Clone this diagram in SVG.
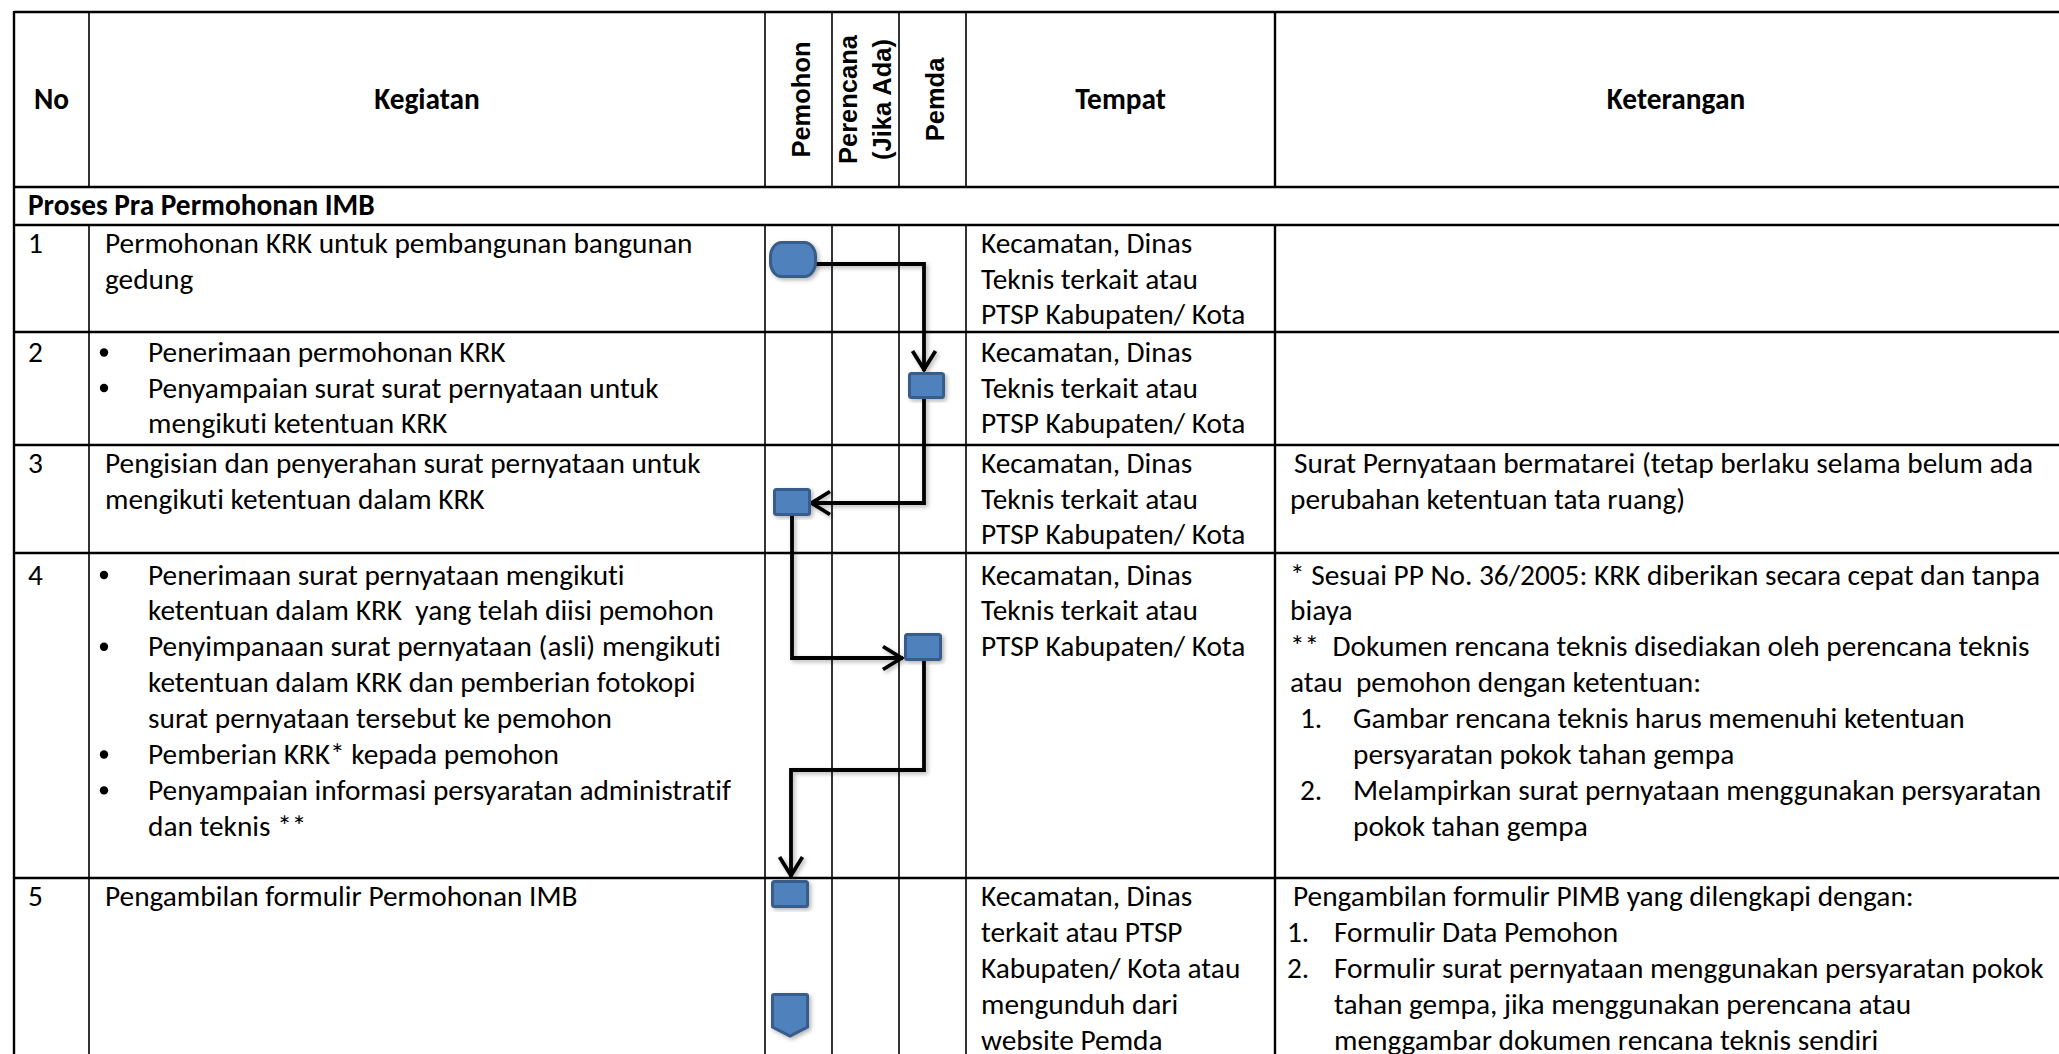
<svg xmlns="http://www.w3.org/2000/svg" width="2059" height="1054" viewBox="0 0 2059 1054">
<style>
.t{font-family:"Carlito","Open Sans","Noto Sans",sans-serif;font-size:29.33px;fill:#000;font-variant-ligatures:none}
.b{font-family:"Carlito","Open Sans","Noto Sans",sans-serif;font-size:29.33px;font-weight:bold;fill:#000;font-variant-ligatures:none}
.v{font-family:"Liberation Sans",Arial,sans-serif;font-size:25.5px;font-weight:bold;fill:#000}
.c{text-anchor:middle}
.h{stroke:#000;stroke-width:2.4;fill:none}
.g{stroke:#000;stroke-width:1.6;fill:none}
.shape{fill:#4F81BD;stroke:#385D8A;stroke-width:3;filter:url(#sh)}
.conn{fill:none;stroke:#000;stroke-width:3.8;stroke-linejoin:miter;filter:url(#sh)}
.dot{fill:#000}
</style>
<defs>
<filter id="sh" x="-20%" y="-20%" width="140%" height="140%">
<feDropShadow dx="2" dy="2" stdDeviation="2" flood-color="#000" flood-opacity="0.3"/>
</filter>
<marker id="arr" markerUnits="userSpaceOnUse" viewBox="-26 -16 32 32" refX="0" refY="0" markerWidth="32" markerHeight="32" orient="auto">
<path d="M -20 -11.5 L -1.5 0 L -20 11.5" fill="none" stroke="#000" stroke-width="3.8"/>
</marker>
</defs>
<rect x="0" y="0" width="2059" height="1054" fill="#fff"/>

<g id="grid">
<line class="h" x1="14" y1="12" x2="2059" y2="12"/>
<line class="h" x1="14" y1="187" x2="2059" y2="187"/>
<line class="h" x1="14" y1="225" x2="2059" y2="225"/>
<line class="h" x1="14" y1="332" x2="2059" y2="332"/>
<line class="h" x1="14" y1="445" x2="2059" y2="445"/>
<line class="h" x1="14" y1="553" x2="2059" y2="553"/>
<line class="h" x1="14" y1="878" x2="2059" y2="878"/>
<line class="h" x1="14" y1="11" x2="14" y2="1054"/>
<line class="g" x1="89" y1="12" x2="89" y2="187"/>
<line class="g" x1="765" y1="12" x2="765" y2="187"/>
<line class="g" x1="832" y1="12" x2="832" y2="187"/>
<line class="g" x1="899" y1="12" x2="899" y2="187"/>
<line class="g" x1="966" y1="12" x2="966" y2="187"/>
<line class="h" x1="1275" y1="12" x2="1275" y2="187"/>
<line class="g" x1="89" y1="225" x2="89" y2="1054"/>
<line class="g" x1="765" y1="225" x2="765" y2="1054"/>
<line class="g" x1="832" y1="225" x2="832" y2="1054"/>
<line class="g" x1="899" y1="225" x2="899" y2="1054"/>
<line class="g" x1="966" y1="225" x2="966" y2="1054"/>
<line class="h" x1="1275" y1="225" x2="1275" y2="1054"/>
</g>

<g id="header">
<text class="b c" x="51.5" y="109">No</text>
<text class="b c" x="427" y="109">Kegiatan</text>
<text class="v c" transform="translate(810,99.5) rotate(-90)">Pemohon</text>
<text class="v c" transform="translate(857,99.5) rotate(-90)">Perencana</text>
<text class="v c" transform="translate(891,99.5) rotate(-90)">(Jika Ada)</text>
<text class="v c" transform="translate(944,99.5) rotate(-90)">Pemda</text>
<text class="b c" x="1120.5" y="109">Tempat</text>
<text class="b c" x="1676" y="109">Keterangan</text>
<text class="b" x="28" y="215">Proses Pra Permohonan IMB</text>
</g>

<g id="row1">
<text class="t" x="28" y="253">1</text>
<text class="t" x="105" y="253">Permohonan KRK untuk pembangunan bangunan</text>
<text class="t" x="105" y="288.5">gedung</text>
<text class="t" x="981" y="253">Kecamatan, Dinas</text>
<text class="t" x="981" y="288.5">Teknis terkait atau</text>
<text class="t" x="981" y="324">PTSP Kabupaten/ Kota</text>
</g>

<g id="row2">
<text class="t" x="28" y="362">2</text>
<circle class="dot" cx="104" cy="352.5" r="4.2"/>
<text class="t" x="148" y="362">Penerimaan permohonan KRK</text>
<circle class="dot" cx="104" cy="388" r="4.2"/>
<text class="t" x="148" y="397.5">Penyampaian surat surat pernyataan untuk</text>
<text class="t" x="148" y="433">mengikuti ketentuan KRK</text>
<text class="t" x="981" y="362">Kecamatan, Dinas</text>
<text class="t" x="981" y="397.5">Teknis terkait atau</text>
<text class="t" x="981" y="433">PTSP Kabupaten/ Kota</text>
</g>

<g id="row3">
<text class="t" x="28" y="473">3</text>
<text class="t" x="105" y="473">Pengisian dan penyerahan surat pernyataan untuk</text>
<text class="t" x="105" y="508.5">mengikuti ketentuan dalam KRK</text>
<text class="t" x="981" y="473">Kecamatan, Dinas</text>
<text class="t" x="981" y="508.5">Teknis terkait atau</text>
<text class="t" x="981" y="544">PTSP Kabupaten/ Kota</text>
<text class="t" x="1294" y="473">Surat Pernyataan bermatarei (tetap berlaku selama belum ada</text>
<text class="t" x="1290" y="508.5">perubahan ketentuan tata ruang)</text>
</g>

<g id="row4">
<text class="t" x="28" y="584.5">4</text>
<circle class="dot" cx="104" cy="575" r="4.2"/>
<text class="t" x="148" y="584.5">Penerimaan surat pernyataan mengikuti</text>
<text class="t" x="148" y="620.4" xml:space="preserve">ketentuan dalam KRK  yang telah diisi pemohon</text>
<circle class="dot" cx="104" cy="646.8" r="4.2"/>
<text class="t" x="148" y="656.3">Penyimpanaan surat pernyataan (asli) mengikuti</text>
<text class="t" x="148" y="692.2">ketentuan dalam KRK dan pemberian fotokopi</text>
<text class="t" x="148" y="728.1">surat pernyataan tersebut ke pemohon</text>
<circle class="dot" cx="104" cy="754.5" r="4.2"/>
<text class="t" x="148" y="764">Pemberian KRK* kepada pemohon</text>
<circle class="dot" cx="104" cy="790.4" r="4.2"/>
<text class="t" x="148" y="799.9">Penyampaian informasi persyaratan administratif</text>
<text class="t" x="148" y="835.8">dan teknis **</text>
<text class="t" x="981" y="584.5">Kecamatan, Dinas</text>
<text class="t" x="981" y="620.4">Teknis terkait atau</text>
<text class="t" x="981" y="656.3">PTSP Kabupaten/ Kota</text>
<text class="t" x="1290" y="584.5">* Sesuai PP No. 36/2005: KRK diberikan secara cepat dan tanpa</text>
<text class="t" x="1290" y="620.4">biaya</text>
<text class="t" x="1290" y="656.3" xml:space="preserve">**  Dokumen rencana teknis disediakan oleh perencana teknis</text>
<text class="t" x="1290" y="692.2" xml:space="preserve">atau  pemohon dengan ketentuan:</text>
<text class="t" x="1300" y="728.1">1.</text>
<text class="t" x="1353" y="728.1">Gambar rencana teknis harus memenuhi ketentuan</text>
<text class="t" x="1353" y="764">persyaratan pokok tahan gempa</text>
<text class="t" x="1300" y="799.9">2.</text>
<text class="t" x="1353" y="799.9">Melampirkan surat pernyataan menggunakan persyaratan</text>
<text class="t" x="1353" y="835.8">pokok tahan gempa</text>
</g>

<g id="row5">
<text class="t" x="28" y="906">5</text>
<text class="t" x="105" y="906">Pengambilan formulir Permohonan IMB</text>
<text class="t" x="981" y="906">Kecamatan, Dinas</text>
<text class="t" x="981" y="942">terkait atau PTSP</text>
<text class="t" x="981" y="978">Kabupaten/ Kota atau</text>
<text class="t" x="981" y="1014">mengunduh dari</text>
<text class="t" x="981" y="1050">website Pemda</text>
<text class="t" x="1293" y="906">Pengambilan formulir PIMB yang dilengkapi dengan:</text>
<text class="t" x="1287" y="942">1.</text>
<text class="t" x="1334" y="942">Formulir Data Pemohon</text>
<text class="t" x="1287" y="978">2.</text>
<text class="t" x="1334" y="978">Formulir surat pernyataan menggunakan persyaratan pokok</text>
<text class="t" x="1334" y="1014">tahan gempa, jika menggunakan perencana atau</text>
<text class="t" x="1334" y="1050">menggambar dokumen rencana teknis sendiri</text>
</g>

<g id="connectors">
<path class="conn" d="M 813 264 H 924 V 371" marker-end="url(#arr)"/>
<path class="conn" d="M 924 399 V 503 H 810" marker-end="url(#arr)"/>
<path class="conn" d="M 792 516 V 658 H 903" marker-end="url(#arr)"/>
<path class="conn" d="M 924 661 V 770 H 791 V 877" marker-end="url(#arr)"/>
<path class="conn" d="M 791 908 V 994" marker-end="url(#arr)"/>
</g>

<g id="n1"><rect class="shape" x="770.5" y="242.5" width="45" height="34" rx="11" ry="14"/></g>
<g id="n2"><rect class="shape" x="909.5" y="373.5" width="34" height="24" rx="2"/></g>
<g id="n3"><rect class="shape" x="774.5" y="489.5" width="35" height="25" rx="2"/></g>
<g id="n4"><rect class="shape" x="905.5" y="634.5" width="35" height="25" rx="2"/></g>
<g id="n5"><rect class="shape" x="772.5" y="881.5" width="35" height="25" rx="2"/></g>
<g id="n6"><path class="shape" d="M 774 994.5 H 806 Q 807.5 994.5 807.5 996 V 1027 L 790 1036 L 772.5 1027 V 996 Q 772.5 994.5 774 994.5 Z"/></g>
</svg>
